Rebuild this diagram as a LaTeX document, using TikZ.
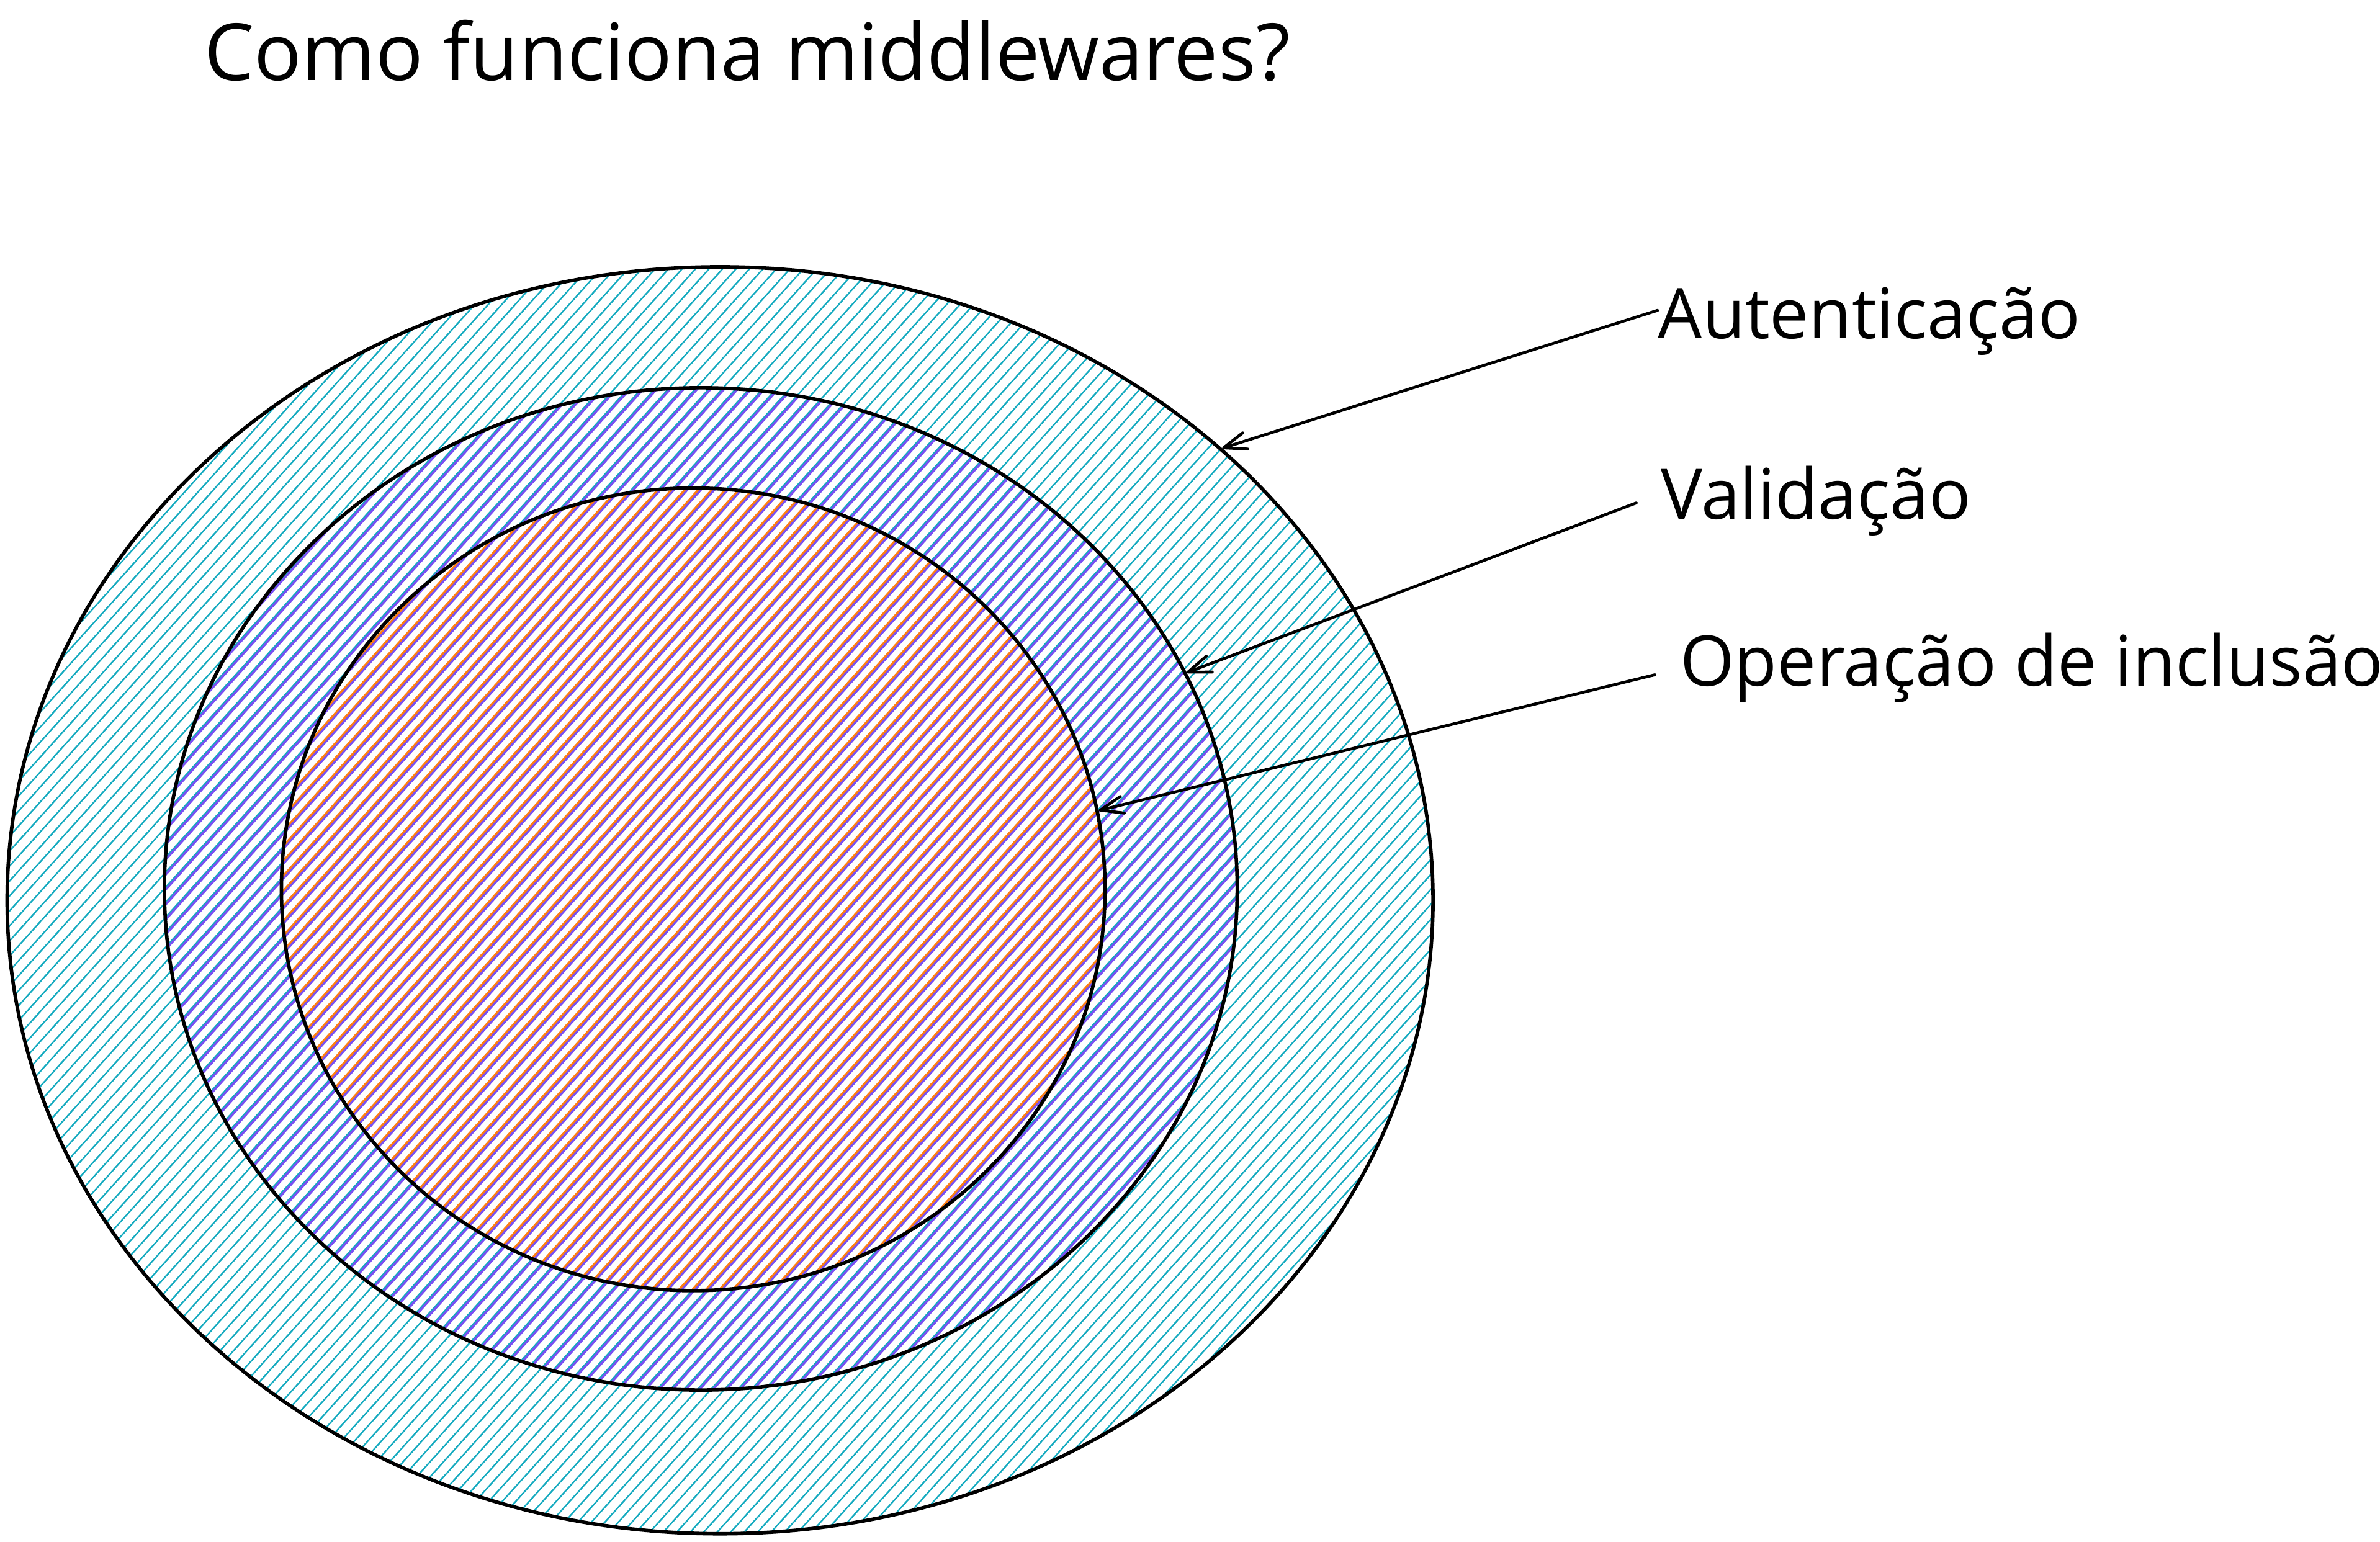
\documentclass[tikz,border=0pt]{standalone}
\usepackage{fontspec}
\setmainfont{Open Sans}
\usetikzlibrary{shapes.geometric,arrows.meta}
\definecolor{hcyan}{HTML}{15AABF}
\definecolor{hviolet}{HTML}{7950F2}
\definecolor{horange}{HTML}{FD7E14}
\newcommand\hatchfill[3]{%
  \begin{scope}[shift={(path picture bounding box.center)}]
    \foreach \i in {-95,...,95}{
      \pgfmathsetmacro\dd{\i*6.6+#2}
      \draw[hatchline,#1] ({\dd*0.7431-#3*0.6691},{\dd*0.6691+#3*0.7431}) -- ++({2*#3*0.6691},{-2*#3*0.7431});
    }
  \end{scope}}
\tikzset{
  hatchline/.style={line width=0.5pt, line cap=round},
  ring/.style={ellipse, draw=black, line width=1.15pt, inner sep=0pt},
  lbl/.style={inner sep=0pt, font=\fontsize{23pt}{27pt}\selectfont},
  ttl/.style={inner sep=0pt, font=\fontsize{26pt}{30pt}\selectfont},
  arr/.style={line width=0.95pt, line cap=round, -{Straight Barb[length=7.5pt,width=5.6pt,round]}}
}
\begin{document}
\begin{tikzpicture}[x=0.5pt,y=-0.5pt]
\useasboundingbox (0,0) rectangle (1568,1015.7);
\node[ring, minimum width=469.7pt, minimum height=417.4pt,
  path picture={\hatchfill{hcyan}{0}{620}}] (outer) at (474.4,593.2) {};
\node[ring, minimum width=353.4pt, minimum height=330.2pt,
  path picture={\hatchfill{hviolet, line width=0.7pt}{2.3}{480}}] (middle) at (461.7,585.7) {};
\node[ring, minimum width=271.3pt, minimum height=264.4pt,
  path picture={\hatchfill{horange, line width=0.65pt}{4.5}{380}}] (inner) at (456.7,586) {};
\node[ttl, anchor=base west] (title) at (134.4,53) {Como funciona middlewares?};
\node[lbl, anchor=base west] (auth) at (1092,223) {Autenticação};
\node[lbl, anchor=base west] (valid) at (1094,342) {Validação};
\node[lbl, anchor=base west] (oper) at (1106.5,452) {Operação de inclusão};
\draw[arr] ([yshift=9.25pt]auth.base west) -- (outer.42);
\draw[arr] ([xshift=-8pt,yshift=5.3pt]valid.base west) -- (middle.24);
\draw[arr] ([xshift=-8.1pt,yshift=3.7pt]oper.base west) -- (inner.11);
\end{tikzpicture}
\end{document}
